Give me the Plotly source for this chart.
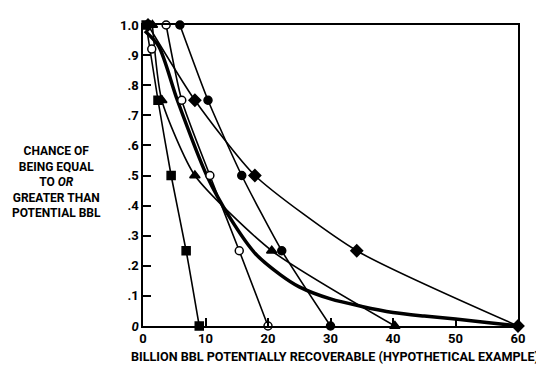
import plotly.graph_objects as go

# Probability levels (y) shared by the marked series
prob = [1.0, 0.75, 0.5, 0.25, 0.0]

# Potential BBL (billions) for each marked series
square_x = [0.5, 2.4, 4.5, 6.9, 9.0]
open_circle_x = [3.7, 6.2, 10.7, 15.4, 20.0]
filled_circle_x = [5.9, 10.4, 15.8, 22.2, 30.0]
triangle_x = [1.5, 3.0, 8.3, 20.6, 40.3]
diamond_x = [0.8, 8.3, 17.9, 34.2, 60.0]

# Thick aggregate curve
thick_x = [0.3, 2.5, 5.5, 10.2, 13.9, 18.0, 22.0, 25.0, 30.0, 35.0, 40.0, 45.0, 50.0, 55.0, 60.0]
thick_y = [0.98, 0.93, 0.75, 0.5, 0.36, 0.24, 0.17, 0.13, 0.09, 0.065, 0.045, 0.033, 0.023, 0.012, 0.0]

# Stray open-circle point near top-left
extra_x = [1.4]
extra_y = [0.92]

x_ticks = [0, 10, 20, 30, 40, 50, 60]
y_ticks = [0, 0.1, 0.2, 0.3, 0.4, 0.5, 0.6, 0.7, 0.8, 0.9, 1.0]
y_tick_labels = ["<i>0</i>", ".1", ".2", ".3", ".4", ".5", ".6", ".7", ".8", ".9", "1.0"]

FONT = "Roboto, Liberation Sans, sans-serif"

fig = go.Figure()

fig.add_trace(go.Scatter(x=thick_x, y=thick_y, mode="lines",
                         line=dict(color="black", width=3.5, shape="spline", smoothing=0.8),
                         cliponaxis=False, showlegend=False))

def add_series(xs, symbol, fill, size):
    fig.add_trace(go.Scatter(
        x=xs, y=prob, mode="lines+markers",
        line=dict(color="black", width=1.6, shape="spline", smoothing=0.6),
        marker=dict(symbol=symbol, size=size, color=fill, line=dict(color="black", width=1.5)),
        cliponaxis=False, showlegend=False))

add_series(square_x, "square", "black", 8)
add_series(open_circle_x, "circle", "white", 8)
add_series(filled_circle_x, "circle", "black", 8)
add_series(triangle_x, "triangle-up", "black", 9)
add_series(diamond_x, "diamond", "black", 9)

fig.add_trace(go.Scatter(x=extra_x, y=extra_y, mode="markers",
                         marker=dict(symbol="circle", size=8, color="white", line=dict(color="black", width=1.5)),
                         cliponaxis=False, showlegend=False))

fig.update_layout(
    width=536, height=361,
    margin=dict(l=135, r=26, t=10, b=43),
    paper_bgcolor="white", plot_bgcolor="white",
    font=dict(family=FONT, color="black", size=12),
    showlegend=False,
)

fig.update_xaxes(range=[0, 60], tickvals=x_ticks, ticktext=[f"<b>{v}</b>" for v in x_ticks],
                 showgrid=False, zeroline=False, showline=True, linecolor="black", linewidth=1.5,
                 mirror=True, ticks="inside", ticklen=8, tickcolor="black", tickwidth=1.5,
                 tickfont=dict(family=FONT, size=13))
fig.update_yaxes(range=[0, 1.0], tickvals=y_ticks, ticktext=[f"<b>{t}</b>" for t in y_tick_labels],
                 showgrid=False, zeroline=False, showline=True, linecolor="black", linewidth=1.5,
                 mirror=True, ticks="inside", ticklen=8, tickcolor="black", tickwidth=1.5,
                 tickfont=dict(family=FONT, size=13))

fig.add_annotation(text="<b>BILLION BBL POTENTIALLY RECOVERABLE (HYPOTHETICAL EXAMPLE)</b>",
                   xref="paper", yref="paper", x=0.511, y=-0.10, xanchor="center", yanchor="middle",
                   showarrow=False, font=dict(family=FONT, size=12.6))
fig.add_annotation(text="<b>CHANCE OF<br>BEING EQUAL<br>TO <i>OR</i><br>GREATER THAN<br>POTENTIAL BBL</b>",
                   xref="paper", yref="paper", x=-0.232, y=0.48, xanchor="center", yanchor="middle",
                   align="center", showarrow=False, font=dict(family=FONT, size=12))

fig.write_html("out.html")
